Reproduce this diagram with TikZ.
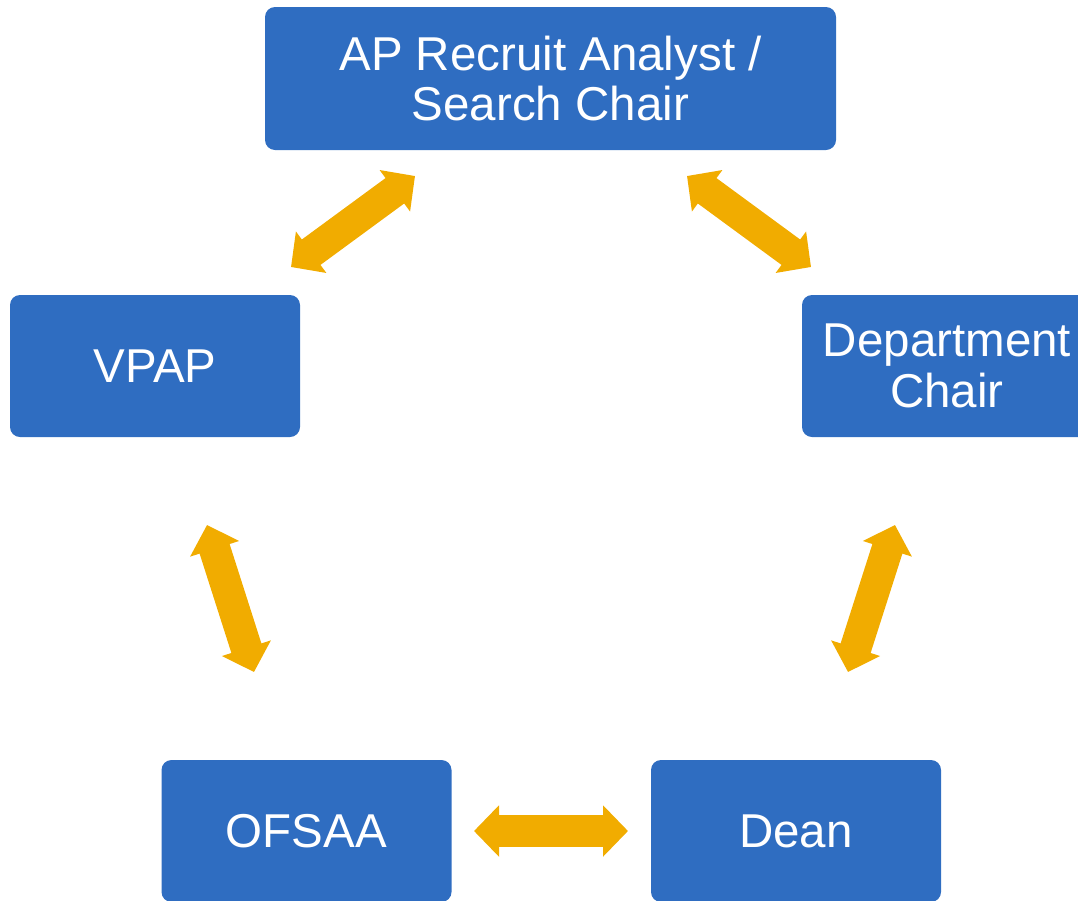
\documentclass[tikz,border=0pt]{standalone}
\usepackage{fontspec}
\setmainfont{Liberation Sans}
\usetikzlibrary{arrows.meta}
\definecolor{boxblue}{RGB}{47,109,193}
\definecolor{arroworange}{RGB}{241,172,0}
\tikzset{
  rolebox/.style={fill=boxblue, draw=none, rounded corners=10pt, text=white,
    minimum width=290pt, minimum height=142pt, align=center, inner sep=0pt,
    font=\fontsize{47.5}{50.5}\selectfont},
  link/.style={draw=arroworange, line width=31.5pt,
    {Triangle[width=50pt,length=25pt]}-{Triangle[width=50pt,length=25pt]}}
}
\begin{document}
\begin{tikzpicture}[x=1pt,y=-1pt]
\useasboundingbox (0,0) rectangle (1078,900);
\node[rolebox, minimum width=571pt, minimum height=143pt] (ap) at (550.5,78.5) {AP Recruit Analyst /\\Search Chair};
\node[rolebox] (vpap) at (155,366) {VPAP};
\node[rolebox] (dept) at (947,366) {Department\\Chair};
\node[rolebox] (ofsaa) at (306.5,831) {OFSAA};
\node[rolebox] (dean) at (796,831) {Dean};
% arrow tip coordinates
\coordinate (a1) at (291,267);
\coordinate (a2) at (415,176);
\coordinate (b1) at (687,176);
\coordinate (b2) at (811,267);
\coordinate (c1) at (207,525);
\coordinate (c2) at (254,672);
\coordinate (d1) at (895,525);
\coordinate (d2) at (848,672);
\coordinate (e1) at (474,831);
\coordinate (e2) at (628,831);
\draw[link] (a1) -- (a2);
\draw[link] (b1) -- (b2);
\draw[link] (c1) -- (c2);
\draw[link] (d1) -- (d2);
\draw[link] (e1) -- (e2);
\end{tikzpicture}
\end{document}
